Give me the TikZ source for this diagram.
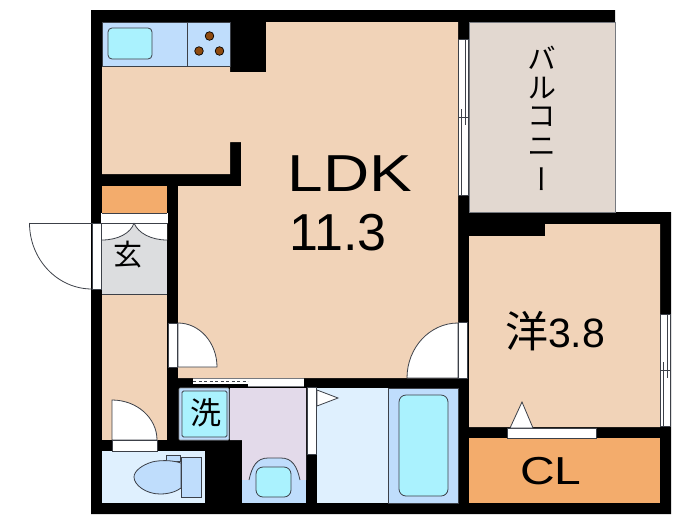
\documentclass[tikz,border=0pt]{standalone}
\usepackage{fontspec}
\setmainfont{Liberation Sans}
\newfontfamily\widefont[FakeStretch=1.23]{Liberation Sans}
\newfontfamily\jpfont[RawFeature=+vert]{Noto Sans CJK JP}
\newfontfamily\jpplain{Noto Sans CJK JP}
\definecolor{peach}{HTML}{F1D3B8}
\definecolor{closet}{HTML}{F3AC6C}
\definecolor{counter}{HTML}{BFDDFC}
\definecolor{basin}{HTML}{AAF2FE}
\definecolor{wet}{HTML}{DFF0FE}
\definecolor{lilac}{HTML}{E3DAEA}
\definecolor{genkan}{HTML}{DCDDDF}
\definecolor{balcony}{HTML}{E2D8D0}
\definecolor{burner}{HTML}{8F4A0F}
\definecolor{edge}{HTML}{3C4048}
\tikzset{
thin line/.style={draw=edge, line width=0.8pt},
door line/.style={draw=edge, line width=0.8pt, fill=white},
roomtext/.style={inner sep=0pt}
}
\begin{document}
\begin{tikzpicture}[x=1pt,y=-1pt]
\useasboundingbox (0,0) rectangle (700,525);
\fill[black] (91,10) -- (615,10) -- (615,212) -- (671,212) -- (671,514) -- (91,514) -- cycle;
% balcony
\filldraw[fill=balcony, draw=edge!70, line width=0.7pt] (469,22) rectangle (615,212);
% rooms
\fill[peach] (102,66) -- (230,66) -- (230,72) -- (266,72) -- (266,22) -- (458,22) -- (458,378) -- (178,378) -- (178,186) -- (241,186) -- (241,142) -- (230,142) -- (230,174) -- (102,174) -- cycle;
\fill[peach] (469,236) -- (545,236) -- (545,224) -- (660,224) -- (660,427) -- (469,427) -- cycle;
\foreach \xa/\ya/\xb/\yb/\c in {
102/186/167/213/closet, 469/438/660/503/closet,
102/294/167/440/peach, 102/223/167/294/genkan,
102/451/205/503/wet, 317/388/388/503/wet}{
\fill[\c] (\xa,\ya) rectangle (\xb,\yb);
}
% kitchen
\filldraw[fill=counter, thin line] (102,22) rectangle (230,66);
\draw[thin line] (187,22) -- (187,66);
\filldraw[fill=basin, thin line, rounded corners=4pt] (108,28) rectangle (152,59);
\foreach \x/\y in {209.5/36, 199/51, 219.5/51}{
\filldraw[fill=burner, draw=black, line width=0.7pt] (\x,\y) circle(4.3);
}
% wash room
\fill[lilac] (230,388) -- (306,388) -- (306,480) -- (242,480) -- (242,440) -- (230,440) -- cycle;
\filldraw[fill=counter, draw=edge!60, line width=0.7pt, rounded corners=1pt] (179,388) rectangle (229,440);
\filldraw[fill=basin, thin line, rounded corners=1.5pt] (182,391) rectangle (227,437);
\fill[counter] (242,480) rectangle (306,503);
\filldraw[fill=counter, thin line] (249,480) .. controls (252,466) and (257,458) .. (268,458) -- (281,458) .. controls (292,458) and (297,466) .. (300,480);
\fill[counter] (250,479) rectangle (299,503);
\filldraw[fill=basin, thin line, rounded corners=7pt] (256,467) rectangle (291,497);
% toilet
\filldraw[fill=counter, thin line] (166,455) rectangle (180,461);
\filldraw[fill=counter, thin line] (181,463) .. controls (172,460) and (160,460) .. (152,462) .. controls (142,465) and (134,471) .. (134,477) .. controls (134,485) and (146,494) .. (160,494) .. controls (170,494) and (177,491) .. (181,488) -- cycle;
\filldraw[fill=counter, thin line] (181,457) rectangle (201,497);
% bath
\filldraw[fill=counter, thin line] (388,388) rectangle (458,503);
\filldraw[fill=basin, thin line, rounded corners=7pt] (399,395) rectangle (448,496);
% shoe box
\fill[white] (101,213) rectangle (168,223);
\fill[white] (102,223) -- (134,223) .. controls (131,233) and (118,240) .. (102,240) -- cycle;
\fill[white] (134,223) -- (167,223) -- (167,240) .. controls (151,240) and (138,233) .. (134,223) -- cycle;
\draw[thin line] (102,213.5) -- (167,213.5) (101,223) -- (168,223) (102,294) -- (167,294);
\draw[thin line] (134,223) .. controls (131,233) and (118,240) .. (102,240);
\draw[thin line] (134,223) .. controls (138,233) and (151,240) .. (167,240);
% doors
\filldraw[door line] (92,223) rectangle (101,289);
\draw[thin line] (29.5,223) -- (92,223);
\draw[thin line] (29.5,223) arc[start angle=180, end angle=90, x radius=62.5, y radius=66];
\foreach \xs/\ys/\w/\h in {178/323/39/44, 112/400/45/40}{
\filldraw[door line] (\xs,\ys) arc[start angle=-90, end angle=0, x radius=\w, y radius=\h] -- (\xs,\ys+\h) -- cycle;
}
\filldraw[door line] (168,323) rectangle (177,367);
\filldraw[door line] (112,440) rectangle (157,451);
\filldraw[door line] (458,323) arc[start angle=-90, end angle=-180, x radius=51, y radius=55] -- (458,378) -- cycle;
\filldraw[door line] (458,322) rectangle (467,378);
\filldraw[door line] (307,387) rectangle (316,454);
\filldraw[door line] (317,390) -- (338,398) -- (317,406) -- cycle;
\filldraw[door line] (507,428) rectangle (596,438);
\filldraw[door line] (510,428) -- (522,402) -- (533,428) -- cycle;
% sliding door of wash room
\fill[white] (193,378) rectangle (248,384);
\fill[white] (248,378) rectangle (304,387);
\draw[edge!70, line width=0.7pt] (193,378.5) -- (304,378.5) (248,386.5) -- (304,386.5);
\draw[edge, line width=1.4pt, dash pattern=on 3pt off 2.5pt] (193,381.5) -- (248,381.5);
% windows
\foreach \x/\a/\m/\b in {458.5/39/117/195, 660.5/314/370/426}{
\filldraw[door line, line width=0.5pt] (\x,\a) rectangle (\x+10,\b);
\draw[edge, line width=0.5pt] (\x+7,\a) -- (\x+7,\m+8) (\x+3,\m-8) -- (\x+3,\b) (\x,\m) -- (\x+10,\m);
}
% labels
\node[roomtext, font=\widefont\fontsize{52}{52}\selectfont] (ldk) at (350,174) {LDK};
\node[roomtext, font=\fontsize{52}{52}\selectfont] (ldkarea) at (338,233) {11.3};
\node[roomtext, font=\fontsize{41}{41}\selectfont] (bedroom) at (555,331) {{\jpplain\fontsize{43}{43}\selectfont 洋}3.8};
\node[roomtext, font=\widefont\fontsize{39}{39}\selectfont] (cl) at (551,471) {CL};
\node[roomtext, font=\jpplain\fontsize{29}{29}\selectfont] (genkanlabel) at (128,255) {玄};
\node[roomtext, font=\jpplain\fontsize{31}{31}\selectfont] (washer) at (206,413) {洗};
\foreach \y/\f in {58/バ, 88/ル, 117/コ, 147/ニ, 179/ー}{
\node[roomtext, font=\jpfont\fontsize{29}{29}\selectfont] (balcony\y) at (542,\y) {\f};
}
\end{tikzpicture}
\end{document}
